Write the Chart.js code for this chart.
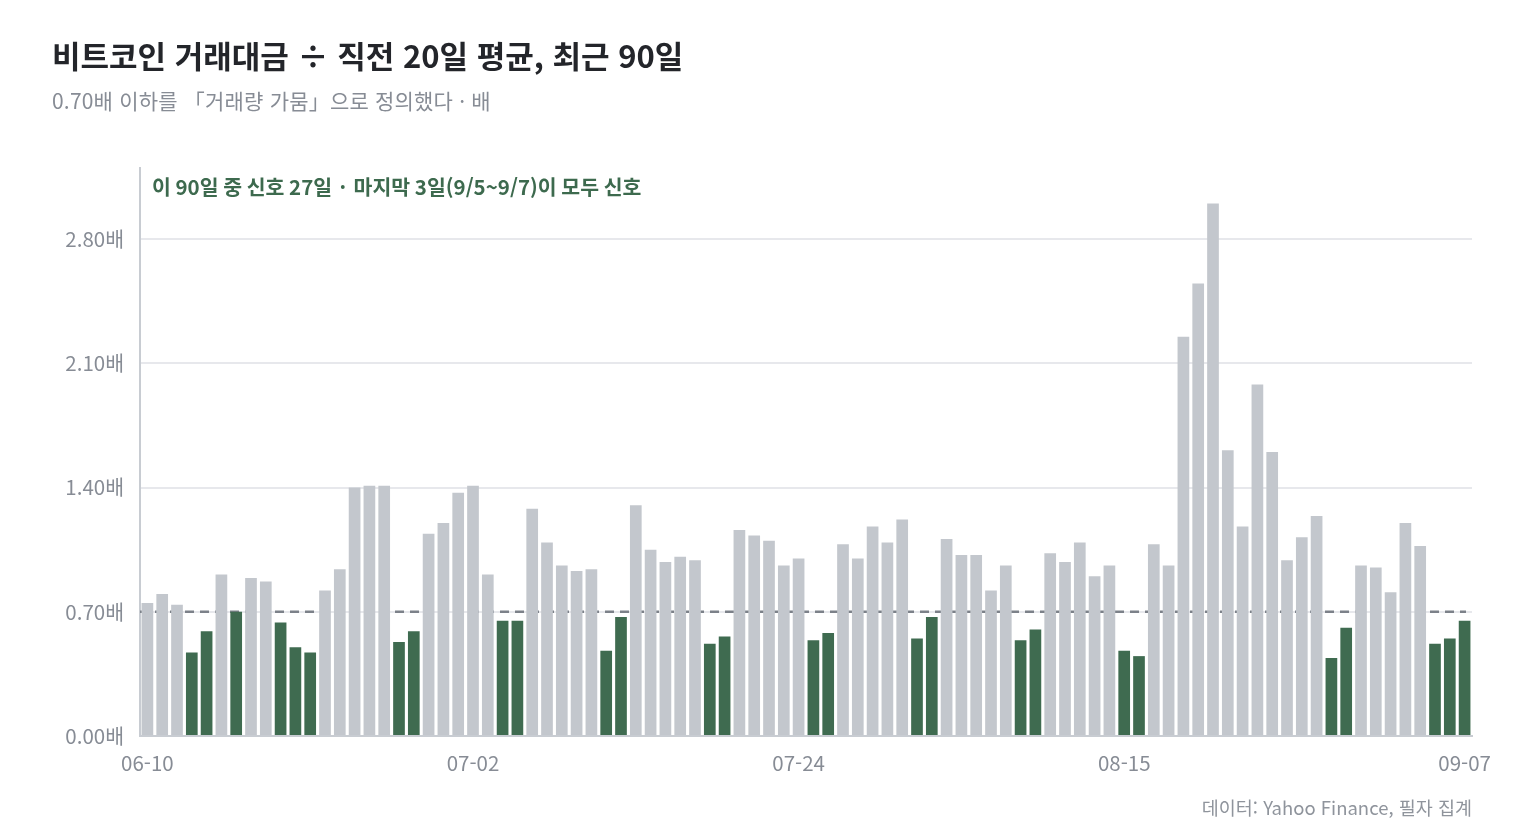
<!DOCTYPE html>
<html lang="ko">
<head>
<meta charset="utf-8">
<script src="https://cdn.jsdelivr.net/npm/chart.js@4/dist/chart.umd.min.js"></script>
<style>
  html, body { margin:0; padding:0; background:#fff; }
  body { width:1520px; height:840px; position:relative; overflow:hidden;
         font-family:"Noto Sans CJK KR","Noto Sans",sans-serif; }
  #title { position:absolute; left:52px; top:32px; font-size:31px; font-weight:700; color:#23252a; letter-spacing:0px; }
  #subtitle { position:absolute; left:52px; top:85px; font-size:21px; color:#878c95; letter-spacing:0.2px; }
  #source { position:absolute; right:48px; top:794px; font-size:18.5px; color:#8f949c; }
  #chart { position:absolute; left:0; top:0; }
</style>
</head>
<body>
<canvas id="chart" width="1520" height="840"></canvas>
<div id="title">비트코인 거래대금 ÷ 직전 20일 평균, 최근 90일</div>
<div id="subtitle">0.70배 이하를 「거래량 가뭄」으로 정의했다 · 배</div>
<div id="source">데이터: Yahoo Finance, 필자 집계</div>
<script>
// 06-10 ~ 09-07, 90 days
const startDay = "2024-06-10";
const dayCount = 90;
const shownTicks = ["06-10", "07-02", "07-24", "08-15", "09-07"];
const yTicks = [0, 0.70, 1.40, 2.10, 2.80];
const threshold = 0.70;
const note = "이 90일 중 신호 27일 · 마지막 3일(9/5~9/7)이 모두 신호";

const ratio = [
  0.75, 0.80, 0.74, 0.47, 0.59, 0.91, 0.70, 0.89, 0.87, 0.64,
  0.50, 0.47, 0.82, 0.94, 1.40, 1.41, 1.41, 0.53, 0.59, 1.14,
  1.20, 1.37, 1.41, 0.91, 0.65, 0.65, 1.28, 1.09, 0.96, 0.93,
  0.94, 0.48, 0.67, 1.30, 1.05, 0.98, 1.01, 0.99, 0.52, 0.56,
  1.16, 1.13, 1.10, 0.96, 1.00, 0.54, 0.58, 1.08, 1.00, 1.18,
  1.09, 1.22, 0.55, 0.67, 1.11, 1.02, 1.02, 0.82, 0.96, 0.54,
  0.60, 1.03, 0.98, 1.09, 0.90, 0.96, 0.48, 0.45, 1.08, 0.96,
  2.25, 2.55, 3.00, 1.61, 1.18, 1.98, 1.60, 0.99, 1.12, 1.24,
  0.44, 0.61, 0.96, 0.95, 0.81, 1.20, 1.07, 0.52, 0.55, 0.65
];

const days = [];
const d0 = new Date(startDay + "T00:00:00Z");
for (let i = 0; i < dayCount; i++) {
  const d = new Date(d0.getTime() + i * 86400000);
  days.push(String(d.getUTCMonth()+1).padStart(2,"0") + "-" + String(d.getUTCDate()).padStart(2,"0"));
}

const GREEN = "#3f6b50", GRAY = "#c3c7cd";
const barColors = ratio.map(v => v <= threshold ? GREEN : GRAY);

const fontFam = '"Noto Sans CJK KR","Noto Sans",sans-serif';

// dashed threshold line, under the bars
const thresholdLine = {
  id: "thresholdLine",
  beforeDatasetsDraw(chart) {
    const { ctx, chartArea, scales } = chart;
    const y = scales.y.getPixelForValue(threshold);
    ctx.save();
    ctx.strokeStyle = "#7c8189";
    ctx.lineWidth = 2.5;
    ctx.setLineDash([9, 6]);
    ctx.beginPath();
    ctx.moveTo(chartArea.left, y);
    ctx.lineTo(chartArea.right - 6, y);
    ctx.stroke();
    ctx.restore();
  },
  afterDraw(chart) {
    const { ctx, chartArea } = chart;
    ctx.save();
    ctx.fillStyle = "#3d6a4e";
    ctx.font = "700 20.5px " + fontFam;
    ctx.textBaseline = "middle";
    ctx.fillText(note, chartArea.left + 12, chartArea.top + 19);
    ctx.restore();
  }
};

new Chart(document.getElementById("chart"), {
  type: "bar",
  data: {
    labels: days,
    datasets: [{
      data: ratio,
      backgroundColor: barColors,
      borderWidth: 0,
      barPercentage: 0.79,
      categoryPercentage: 1.0
    }]
  },
  options: {
    responsive: false,
    animation: false,
    layout: { padding: { top: 168, right: 48, bottom: 54, left: 0 } },
    plugins: { legend: { display: false }, tooltip: { enabled: false } },
    scales: {
      x: {
        grid: { display: false, drawTicks: false },
        border: { display: true, color: "#c8ccd2", width: 2 },
        ticks: {
          autoSkip: false, maxRotation: 0, padding: 15,
          color: "#878c95", font: { family: fontFam, size: 20.5 },
          callback: (v, i) => shownTicks.includes(days[i]) ? days[i] : ""
        },
        afterFit: s => { s.height = 50; }
      },
      y: {
        min: 0, max: 3.2,
        afterBuildTicks: s => { s.ticks = yTicks.map(v => ({ value: v })); },
        grid: { color: "#e7e8ec", lineWidth: 2, drawTicks: false },
        border: { display: true, color: "#c8ccd2", width: 2 },
        ticks: {
          padding: 16, color: "#878c95", font: { family: fontFam, size: 20.5 },
          callback: v => v.toFixed(2) + "배"
        },
        afterFit: s => { s.width = 140; }
      }
    }
  },
  plugins: [thresholdLine]
});
</script>
</body>
</html>
